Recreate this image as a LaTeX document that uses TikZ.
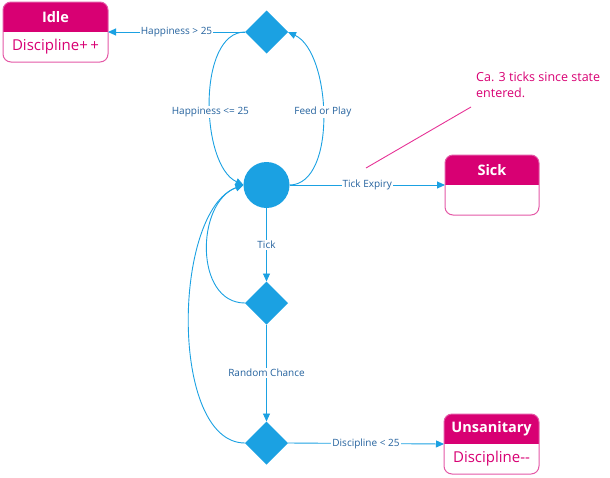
\documentclass[tikz,border=0pt]{standalone}
\usepackage{fontspec}
\setmainfont{Open Sans}
\usetikzlibrary{shapes.geometric,arrows.meta}
\definecolor{flowblue}{RGB}{27,161,226}
\definecolor{labelblue}{RGB}{36,98,158}
\definecolor{statemag}{RGB}{216,0,115}
\definecolor{stateline}{RGB}{228,88,166}
\definecolor{notemag}{RGB}{230,50,150}
\tikzset{
    choice/.style={diamond,fill=flowblue,minimum width=43pt,minimum height=43pt,inner sep=0pt,outer sep=0pt},
    hub/.style={circle,fill=flowblue,minimum size=46pt,inner sep=0pt,outer sep=0pt},
    statebox/.style={rectangle,minimum height=60pt,inner sep=0pt,outer sep=0pt},
    flow/.style={flowblue,line width=0.9pt,-{Triangle[length=8pt,width=7pt]}},
    lbl/.style={fill=white,text=labelblue,font=\fontsize{10}{12}\selectfont,inner sep=1pt},
}
% name, position, width, title, body
\newcommand{\tamastate}[5]{
    \node[statebox,minimum width=#3] (#1) at (#2) {};
    \begin{scope}
        \clip[rounded corners=8pt] (#1.south west) rectangle (#1.north east);
        \fill[statemag] (#1.north west) rectangle (#1.east);
    \end{scope}
    \draw[stateline,line width=1pt,rounded corners=8pt] (#1.south west) rectangle (#1.north east);
    \node[text=white,font=\bfseries\fontsize{14.5}{16}\selectfont] (#1-title) at ([yshift=15pt]#1.center) {#4};
    \node[text=statemag,font=\fontsize{15}{18}\selectfont] (#1-body) at ([yshift=-15pt]#1.center) {#5};
}
\begin{document}
\begin{tikzpicture}[x=1pt,y=-1pt]
    \useasboundingbox (0,0) rectangle (610,477);
    % states
    \tamastate{idle}{55.5,32}{105pt}{Idle}{Discipline+\,+}
    \tamastate{sick}{492,185}{94pt}{Sick}{}
    \tamastate{unsan}{491.5,444}{95pt}{Unsanitary}{Discipline-{}-}
    % choices
    \node[choice] (top) at (266.5,32) {};
    \node[hub] (hub) at (266.5,185) {};
    \node[choice] (risk) at (266.5,303) {};
    \node[choice] (mess) at (266.5,443) {};
    % transitions
    \draw[flow] (top.west) -- node[lbl]{Happiness > 25} (idle.east);
    \draw[flow] (top.west) to[out=180,in=155,looseness=0.8] node[lbl,pos=0.55]{Happiness <= 25} (hub.west);
    \draw[flow] (hub.east) to[out=0,in=-25,looseness=0.8] node[lbl,pos=0.52]{Feed or Play} (top.east);
    \draw[flow] (hub.east) -- node[lbl]{Tick Expiry} (sick.west);
    \draw[flow] (hub.south) -- node[lbl]{Tick} (risk.north);
    \draw[flow] (risk.west) to[out=180,in=200,looseness=1.1] (hub.west);
    \draw[flow] (risk.south) -- node[lbl]{Random Chance} (mess.north);
    \draw[flow] (mess.west) to[out=180,in=200,looseness=0.75] (hub.west);
    \draw[flow] (mess.east) -- node[lbl]{Discipline < 25} (unsan.west);
    % note
    \node[anchor=north west,align=left,inner sep=0pt,text=statemag,font=\fontsize{12.5}{16}\selectfont] (note) at (476,71.5) {Ca. 3 ticks since state\\entered.};
    \coordinate (noteend) at (471,107);
    \coordinate (notestart) at (366,168);
    \draw[notemag,line width=0.9pt] (notestart) -- (noteend);
\end{tikzpicture}
\end{document}
